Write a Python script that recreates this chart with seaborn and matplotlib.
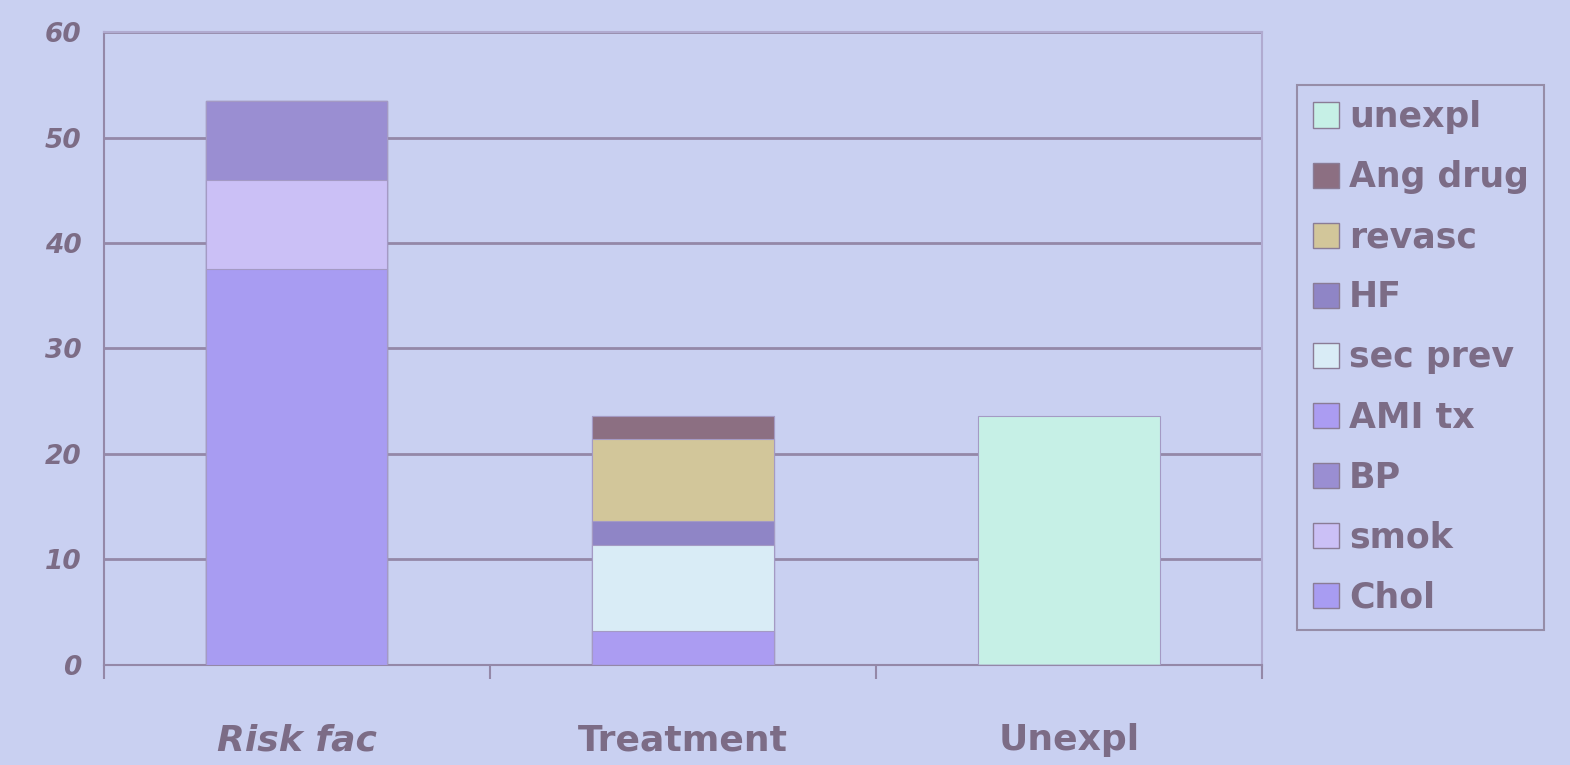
import numpy as np
import pandas as pd
import seaborn as sns
import matplotlib.pyplot as plt
from matplotlib.patches import Patch

categories = ["Risk fac", "Treatment", "Unexpl"]
series = ["Chol", "smok", "BP", "AMI tx", "sec prev", "HF", "revasc", "Ang drug", "unexpl"]
values = {
    "Chol":     [37.5, 0, 0],
    "smok":     [8.5, 0, 0],
    "BP":       [7.5, 0, 0],
    "AMI tx":   [0, 3.2, 0],
    "sec prev": [0, 8.2, 0],
    "HF":       [0, 2.2, 0],
    "revasc":   [0, 7.8, 0],
    "Ang drug": [0, 2.2, 0],
    "unexpl":   [0, 0, 23.6],
}
colors = {
    "Chol": "#a89cf2",
    "smok": "#cbc0f6",
    "BP": "#9a8ed2",
    "AMI tx": "#ab9cf2",
    "sec prev": "#d9ecf6",
    "HF": "#8f85c6",
    "revasc": "#d2c69a",
    "Ang drug": "#8c6f82",
    "unexpl": "#c6f0e6",
}
bg = "#c9d0f1"
txt = "#7c6c86"

df = pd.DataFrame(values, index=categories)
cum = df[series].cumsum(axis=1)

fig = plt.figure(figsize=(15.7, 7.65), dpi=100, facecolor=bg)
ax = fig.add_axes([0.066, 0.131, 0.738, 0.827])
ax.set_facecolor(bg)

# stacked bars: draw cumulative totals from the top series down
for s in reversed(series):
    sns.barplot(x=categories, y=cum[s].values, color=colors[s], width=0.47,
                saturation=1, ax=ax, zorder=3, edgecolor="#a49ac4", linewidth=0.8)

ax.set_ylim(0, 60)
ax.set_xlim(-0.5, 2.5)
ax.set_yticks(range(0, 61, 10))
ax.yaxis.grid(True, color="#9488a8", linewidth=2, zorder=0)
ax.set_axisbelow(True)
for side in ["top", "right"]:
    ax.spines[side].set_color("#b0aad0")
    ax.spines[side].set_linewidth(1.5)
for side in ["left", "bottom"]:
    ax.spines[side].set_color("#9488a8")
    ax.spines[side].set_linewidth(1.5)

ax.tick_params(axis="y", length=0, pad=16, labelsize=19, labelcolor=txt)
for lab in ax.get_yticklabels():
    lab.set_fontweight("bold")
    lab.set_fontstyle("italic")

ax.set_xticks([-0.5, 0.5, 1.5, 2.5], minor=True)
ax.tick_params(axis="x", which="minor", length=10, color="#9488a8", width=1.5)
ax.tick_params(axis="x", which="major", length=0, pad=42, labelsize=26, labelcolor=txt)
for lab in ax.get_xticklabels():
    lab.set_fontweight("bold")
ax.get_xticklabels()[0].set_fontstyle("italic")
ax.set_xlabel("")
ax.set_ylabel("")

handles = [Patch(facecolor=colors[s], edgecolor="#8a7c96", label=s) for s in reversed(series)]
leg = fig.legend(handles=handles, loc="upper left", bbox_to_anchor=(0.815, 0.912),
                 frameon=True, fancybox=False, labelspacing=0.75,
                 handlelength=0.75, handleheight=0.75, handletextpad=0.3,
                 borderpad=0.45, prop={"weight": "bold", "size": 25})
leg.get_frame().set_facecolor(bg)
leg.get_frame().set_edgecolor("#8a7c96")
leg.get_frame().set_linewidth(1.5)
for t in leg.get_texts():
    t.set_color(txt)

fig.savefig("out.png", dpi=100, facecolor=bg)
